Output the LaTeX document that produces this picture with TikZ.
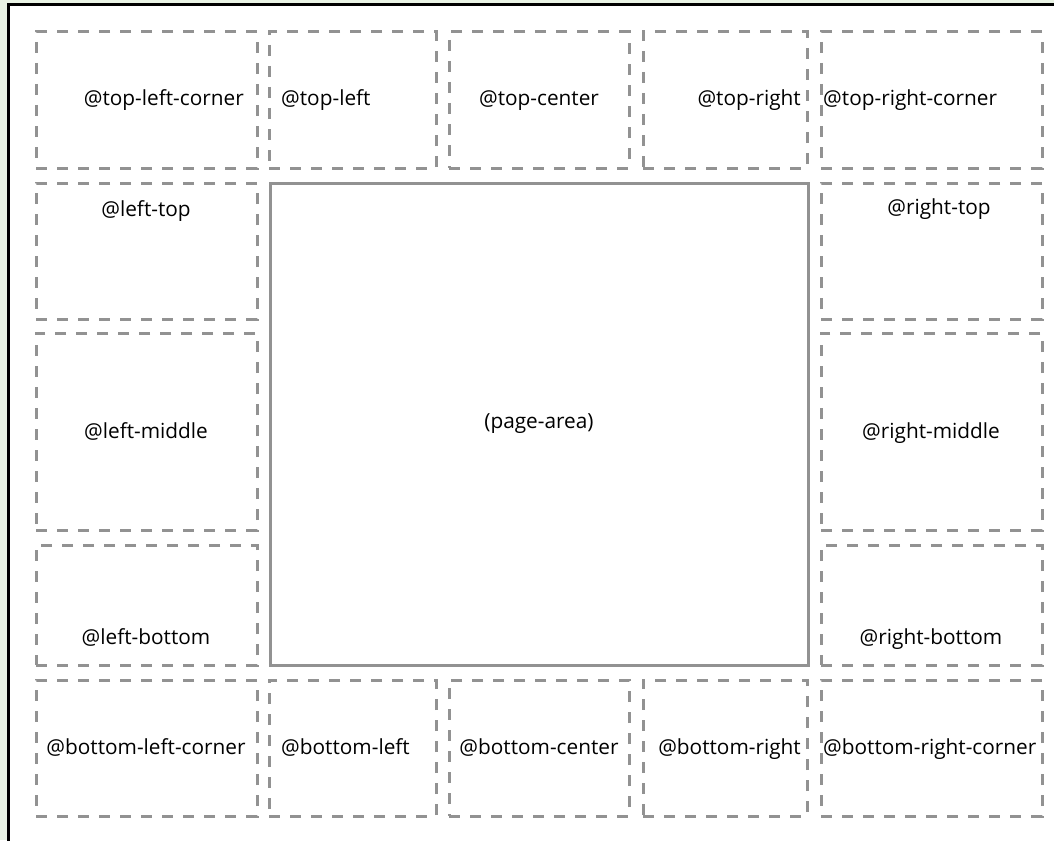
\documentclass[tikz,border=0pt]{standalone}
\usepackage{fontspec}
\setmainfont{Open Sans}
\definecolor{boxgray}{HTML}{929292}
\definecolor{pagegreen}{HTML}{E9F3E4}
\tikzset{
  x=1pt, y=-1pt,
  mbox/.style={draw=boxgray, line width=3pt, dash pattern=on 11pt off 10pt, inner sep=0pt, outer sep=0pt},
  pbox/.style={draw=boxgray, line width=3pt, inner sep=0pt, outer sep=0pt},
  lbl/.style={inner sep=0pt, font=\fontsize{20.8}{23}\selectfont, text=black, anchor=base},
}
\begin{document}
\begin{tikzpicture}
\useasboundingbox (0,0) rectangle (1054,840);
\fill[pagegreen] (0,0) rectangle (1054,840);
\fill[white] (8.5,5) rectangle (1060,850);
\draw[black, line width=3pt] (8.5,850) -- (8.5,5) -- (1060,5);
% top row
\node[mbox, minimum width=221pt, minimum height=136pt] (tlc) at (146.5,100) {};
\node[mbox, minimum width=167pt, minimum height=136pt] (tl) at (352.5,100) {};
\node[mbox, minimum width=180pt, minimum height=136pt] (tc) at (539,100) {};
\node[mbox, minimum width=164pt, minimum height=136pt] (tr) at (725,100) {};
\node[mbox, minimum width=221pt, minimum height=136pt] (trc) at (931.5,100) {};
% left column
\node[mbox, minimum width=221pt, minimum height=136pt] (lt) at (146.5,251) {};
\node[mbox, minimum width=221pt, minimum height=197pt] (lm) at (146.5,431.5) {};
\node[mbox, minimum width=221pt, minimum height=120pt] (lb) at (146.5,605) {};
% right column
\node[mbox, minimum width=221pt, minimum height=136pt] (rt) at (931.5,251) {};
\node[mbox, minimum width=221pt, minimum height=197pt] (rm) at (931.5,431.5) {};
\node[mbox, minimum width=221pt, minimum height=120pt] (rb) at (931.5,605) {};
% bottom row
\node[mbox, minimum width=221pt, minimum height=136pt] (blc) at (146.5,748) {};
\node[mbox, minimum width=167pt, minimum height=136pt] (bl) at (352.5,748) {};
\node[mbox, minimum width=180pt, minimum height=136pt] (bc) at (539,748) {};
\node[mbox, minimum width=164pt, minimum height=136pt] (br) at (725,748) {};
\node[mbox, minimum width=221pt, minimum height=136pt] (brc) at (931.5,748) {};
% page area
\node[pbox, minimum width=538pt, minimum height=482pt] (pa) at (539,424) {};
% labels
\node[lbl, anchor=base east] (tlct) at (244,106) {@top-left-corner};
\node[lbl, anchor=base west] (tlt) at (281,106) {@top-left};
\node[lbl] (tct) at (539,106) {@top-center};
\node[lbl, anchor=base east] (trt) at (801,106) {@top-right};
\node[lbl, anchor=base west] (trct) at (823,106) {@top-right-corner};
\node[lbl] (ltt) at (146,216) {@left-top};
\node[lbl] (lmt) at (146,438) {@left-middle};
\node[lbl] (lbt) at (146,644) {@left-bottom};
\node[lbl] (rtt) at (939,214) {@right-top};
\node[lbl] (rmt) at (931,438) {@right-middle};
\node[lbl] (rbt) at (931,644) {@right-bottom};
\node[lbl] (blct) at (146,754) {@bottom-left-corner};
\node[lbl, anchor=base west] (blt) at (281,754) {@bottom-left};
\node[lbl] (bct) at (539,754) {@bottom-center};
\node[lbl, anchor=base east] (brt) at (801,754) {@bottom-right};
\node[lbl, anchor=base west] (brct) at (823,754) {@bottom-right-corner};
\node[lbl] (pat) at (539,428) {(page-area)};
\end{tikzpicture}
\end{document}
